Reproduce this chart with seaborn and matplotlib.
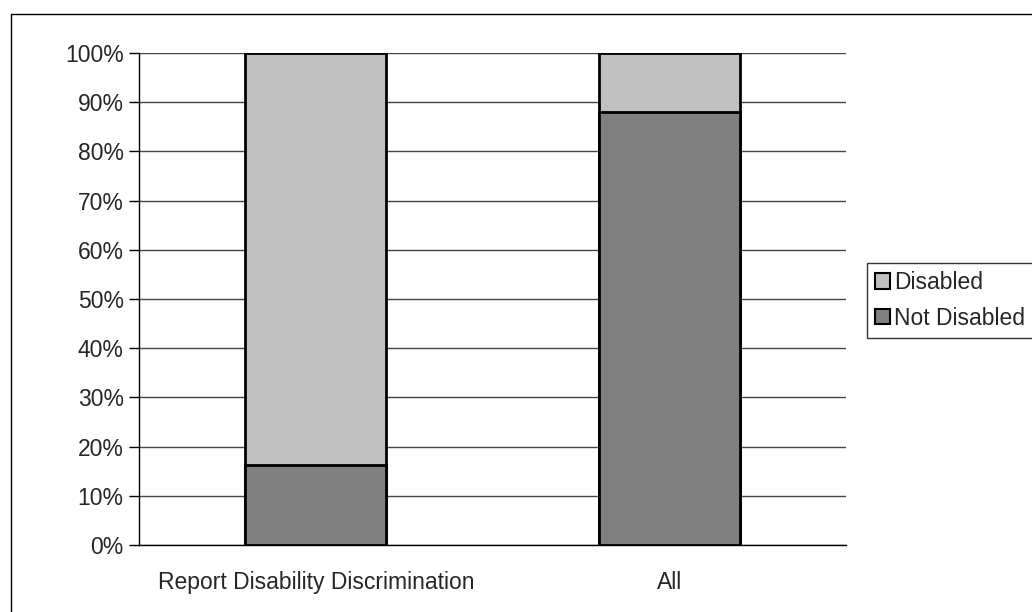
import matplotlib
matplotlib.use("Agg")
import matplotlib.pyplot as plt
from matplotlib.patches import Patch
from matplotlib.lines import Line2D
import seaborn as sns
import pandas as pd

# valores (porcentajes)
categorias = ["Report Disability Discrimination", "All"]
not_disabled = [16.3, 88.1]
disabled = [83.7, 11.9]
ticks_y = [0, 10, 20, 30, 40, 50, 60, 70, 80, 90, 100]

gris_claro = "#c0c0c0"
gris_oscuro = "#808080"

sns.set_style("white")
plt.rcParams["font.family"] = ["Liberation Sans", "DejaVu Sans"]

df = pd.DataFrame({
    "Categoria": categorias,
    "Not Disabled": not_disabled,
    "Disabled": disabled,
})
df["Total"] = df["Not Disabled"] + df["Disabled"]

fig = plt.figure(figsize=(10.32, 6.12), dpi=100)
ax = fig.add_axes([139 / 1032, 1 - 545 / 612, (846 - 139) / 1032, (545 - 53) / 612])

# borde exterior (solo izquierda y arriba quedan dentro)
x0 = 10.5 / 1032
y0 = 1 - 13.5 / 612
fig.add_artist(Line2D([x0, x0], [0, y0], transform=fig.transFigure, color="black", linewidth=1))
fig.add_artist(Line2D([x0, 1], [y0, y0], transform=fig.transFigure, color="black", linewidth=1))

for t in ticks_y:
    ax.axhline(t, color="#444444", linewidth=1, zorder=0)

sns.barplot(data=df, x="Categoria", y="Total", color=gris_claro, width=0.4,
            edgecolor="black", linewidth=2, saturation=1, ax=ax, zorder=2)
sns.barplot(data=df, x="Categoria", y="Not Disabled", color=gris_oscuro, width=0.4,
            edgecolor="black", linewidth=2, saturation=1, ax=ax, zorder=3)

ax.set_xlim(-0.5, 1.5)
ax.set_ylim(0, 100)
ax.set_yticks(ticks_y)
ax.set_yticklabels([f"{t}%" for t in ticks_y], fontsize=16.5)
ax.set_xticks([0, 1])
ax.set_xticklabels(categorias, fontsize=16.5)
ax.set_xticks([-0.5, 0.5, 1.5], minor=True)
ax.tick_params(axis="x", which="major", length=0, pad=19)
ax.tick_params(axis="x", which="minor", length=6, width=1, direction="out", color="black")
ax.tick_params(axis="y", length=7, width=1, direction="out", color="black", left=True, pad=4)
ax.set_xlabel("")
ax.set_ylabel("")

for lado in ["top", "right"]:
    ax.spines[lado].set_visible(False)
for lado in ["left", "bottom"]:
    ax.spines[lado].set_color("black")
    ax.spines[lado].set_linewidth(1)

handles = [Patch(facecolor=gris_claro, edgecolor="black", linewidth=1.5, label="Disabled"),
           Patch(facecolor=gris_oscuro, edgecolor="black", linewidth=1.5, label="Not Disabled")]
leg = fig.legend(handles=handles, loc="upper left",
                 bbox_to_anchor=(867 / 1032, 1 - 263 / 612),
                 frameon=True, fancybox=False, fontsize=16.5,
                 handlelength=0.65, handleheight=0.65, handletextpad=0.2,
                 borderpad=0.35, labelspacing=0.55, borderaxespad=0)
leg.get_frame().set_edgecolor("black")
leg.get_frame().set_linewidth(1)

fig.savefig("out.png", dpi=100)
